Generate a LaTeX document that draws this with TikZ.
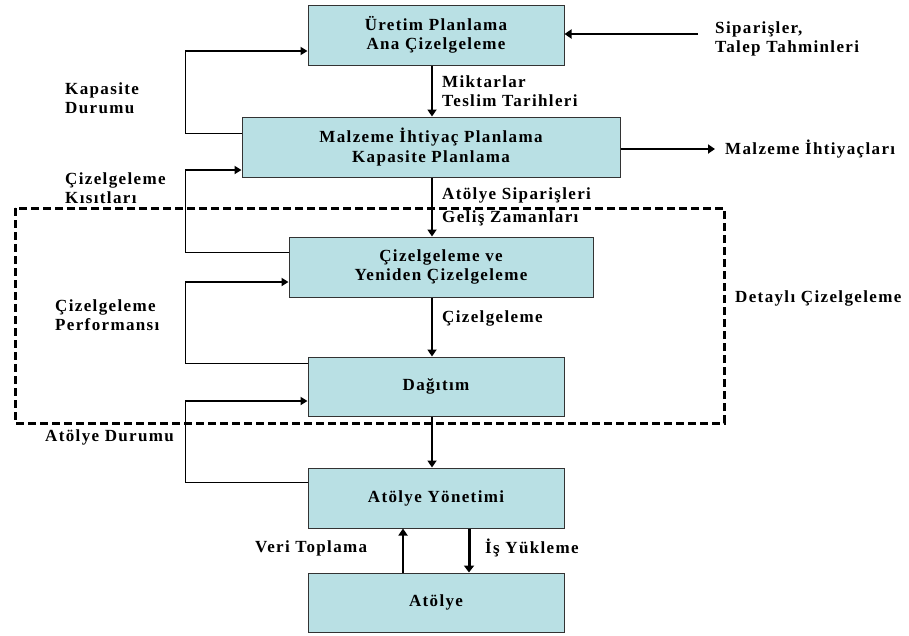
\documentclass[tikz,border=0pt]{standalone}
\usepackage{fontspec}
\setmainfont{Liberation Serif}[LetterSpace=8]
\usetikzlibrary{arrows.meta}
\begin{document}
\begin{tikzpicture}[x=1pt,y=-1pt,
  every node/.style={font=\fontsize{17}{19.5}\selectfont\bfseries},
  box/.style={draw=black!80,line width=1pt,fill=boxcyan,minimum width=#1,minimum height=60pt,inner sep=0pt,align=center},
  lbl/.style={anchor=west,align=left,inner sep=0pt},
  arr/.style={line width=2pt,-{Triangle[length=7pt,width=9pt]}},
  fbline/.style={line width=1pt},
  fbarr/.style={line width=2.8pt,-{Triangle[length=7pt,width=8pt]}},
  detframe/.style={line width=3pt,dash pattern=on 8pt off 4pt}]
\definecolor{boxcyan}{RGB}{185,224,228}
\useasboundingbox (0,0) rectangle (909,635);

% main chain of boxes
\node[box=256pt] (up)  at (436,35)    {Üretim Planlama\\Ana Çizelgeleme};
\node[box=378pt] (mrp) at (431,147)   {Malzeme İhtiyaç Planlama\\Kapasite Planlama};
\node[box=304pt] (cz)  at (441,267)   {Çizelgeleme ve\\Yeniden Çizelgeleme};
\node[box=256pt,minimum height=59pt] (dag) at (436,386.5) {Dağıtım};
\node[box=256pt] (ay)  at (436,498)   {Atölye Yönetimi};
\node[box=256pt,minimum height=59pt] (at)  at (436,602.5) {Atölye};

% detailed scheduling frame
\draw[detframe] (15,208) rectangle (724,423);

% guide coordinates
\coordinate (vx) at (432,0);
\coordinate (fx) at (185,0);
\coordinate (upx) at (403,0);
\coordinate (dnx) at (469,0);

% downward flow
\draw[arr] (up.south -| vx) -- (mrp.north -| vx);
\draw[arr] (mrp.south -| vx) -- (cz.north -| vx);
\draw[arr] (cz.south -| vx) -- (dag.north -| vx);
\draw[arr] (dag.south -| vx) -- (ay.north -| vx);
\draw[arr] (at.north -| upx) -- (ay.south -| upx);
\draw[line width=3pt,-{Triangle[length=7pt,width=10pt]}] (ay.south -| dnx) -- (at.north -| dnx);

% feedback loops on the left
\coordinate (a1) at ([yshift=14pt]mrp.west);
\coordinate (b1) at ([yshift=-16pt]up.west);
\draw[fbline] (a1) -| (fx |- b1);
\draw[fbarr] (fx |- b1) -- (b1);

\coordinate (a2) at ([yshift=15pt]cz.west);
\coordinate (b2) at ([yshift=-23pt]mrp.west);
\draw[fbline] (a2) -| (fx |- b2);
\draw[fbarr] (fx |- b2) -- (b2);

\coordinate (a3) at ([yshift=23.5pt]dag.west);
\coordinate (b3) at ([yshift=-15pt]cz.west);
\draw[fbline] (a3) -| (fx |- b3);
\draw[fbarr,line width=2pt] (fx |- b3) -- (b3);

\coordinate (a4) at ([yshift=16pt]ay.west);
\coordinate (b4) at ([yshift=-14.5pt]dag.west);
\draw[fbline] (a4) -| (fx |- b4);
\draw[fbarr] (fx |- b4) -- (b4);

% external inputs and outputs
\node[lbl] (sip) at (715,39) {Siparişler,\\Talep Tahminleri};
\coordinate (sipend) at (698,34);
\draw[arr] (sipend) -- (sipend -| up.east);
\node[lbl] (mih) at (725,149) {Malzeme İhtiyaçları};
\draw[arr] (mrp.east |- mih.west) -- ([xshift=-10pt]mih.west);

% flow labels
\node[lbl] (l1) at (442,91)  {Miktarlar\\Teslim Tarihleri};
\node[lbl] (l2) at (442,195) {Atölye Siparişleri};
\node[lbl] (l3) at (442,218) {Geliş Zamanları};
\node[lbl] (l4) at (442,318) {Çizelgeleme};
\node[lbl] (l5) at (65,98)   {Kapasite\\Durumu};
\node[lbl] (l6) at (65,188)  {Çizelgeleme\\Kısıtları};
\node[lbl] (l7) at (55,315)  {Çizelgeleme\\Performansı};
\node[lbl] (l8) at (45,437)  {Atölye Durumu};
\node[lbl] (l9) at (735,298) {Detaylı Çizelgeleme};
\node[lbl] (l10) at (255,548) {Veri Toplama};
\node[lbl] (l11) at (485,548) {İş Yükleme};
\end{tikzpicture}
\end{document}
